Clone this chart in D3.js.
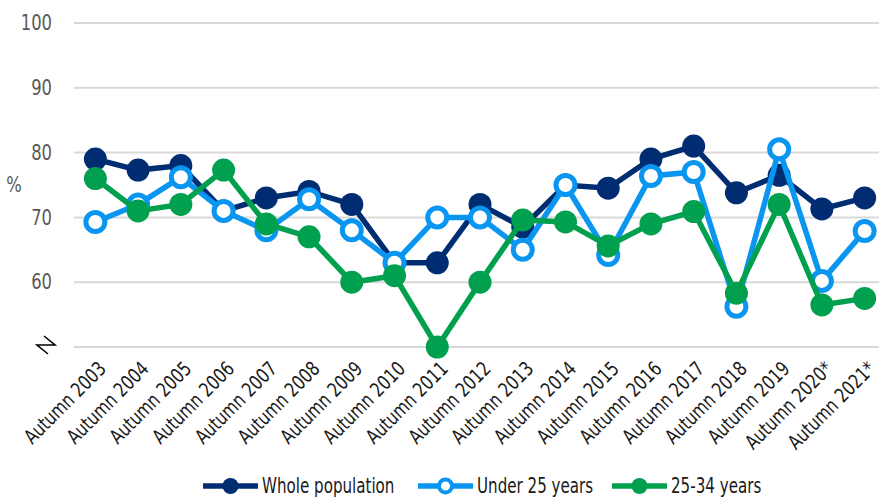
<!DOCTYPE html>
<html>
<head>
<meta charset="utf-8">
<style>
    body { margin: 0; background: white; }
    .grid line { stroke: #d9d9d9; stroke-width: 2; }
    .tick_y { fill: #595959; font-size: 21px; }
    .tick_x { fill: #1a1a1a; font-size: 20px; }
    .legend text { fill: #1a1a1a; font-size: 21px; }
    text { font-family: "DejaVu Sans", sans-serif; }
</style>
</head>
<body>
<div id="chart"></div>
<script src="https://cdn.jsdelivr.net/npm/d3@7"></script>
<script>

//////////////////// donnees ////////////////////
let annees = ['Autumn 2003', 'Autumn 2004', 'Autumn 2005', 'Autumn 2006', 'Autumn 2007', 'Autumn 2008',
    'Autumn 2009', 'Autumn 2010', 'Autumn 2011', 'Autumn 2012', 'Autumn 2013', 'Autumn 2014',
    'Autumn 2015', 'Autumn 2016', 'Autumn 2017', 'Autumn 2018', 'Autumn 2019', 'Autumn 2020*', 'Autumn 2021*'];

let whole_population = [79, 77.3, 78, 71, 73, 74, 72, 63, 63, 72, 68.5, 75, 74.5, 79, 81, 73.8, 76.5, 71.3, 73];
let under_25 = [69.3, 72, 76.2, 71, 68, 72.8, 68, 63, 70, 70, 65, 75, 64.2, 76.4, 77, 56.2, 80.5, 60.2, 67.9];
let age_25_34 = [76, 71, 72, 77.3, 69, 67, 60, 61, 50, 60, 69.6, 69.3, 65.6, 69, 70.9, 58.3, 72, 56.5, 57.5];

let y_ticks = [60, 70, 80, 90, 100];

let series = [
    {nom: 'Whole population', valeurs: whole_population, couleur: '#002d72', creux: false},
    {nom: 'Under 25 years', valeurs: under_25, couleur: '#0a96f0', creux: true},
    {nom: '25-34 years', valeurs: age_25_34, couleur: '#00a04e', creux: false}
];

//////////////////// dimensions ////////////////////
let W = 879, H = 499;
let SERRE = 0.78; // police condensee
let SERRE_LEG = 0.72;

let svg = d3.select('#chart').append('svg')
    .attr('width', W)
    .attr('height', H);

let x = d3.scaleBand()
    .domain(annees)
    .range([74, 886]);

let y = d3.scaleLinear()
    .domain([50, 100])
    .range([347, 23]);

let cx = d => x(d) + x.bandwidth() / 2;

// grille
let grid = svg.append('g').classed('grid', true);
grid.selectAll('line')
    .data([50].concat(y_ticks))
    .enter().append('line')
    .attr('x1', 74).attr('x2', W)
    .attr('y1', d => y(d)).attr('y2', d => y(d));

// axe y
let axeY = d3.axisLeft(y).tickValues(y_ticks).tickSize(0).tickPadding(0);
let gY = svg.append('g').attr('transform', 'translate(52, 0)').call(axeY);
gY.select('.domain').remove();
gY.selectAll('text')
    .classed('tick_y', true)
    .attr('fill', null).attr('font-family', null).attr('font-size', null)
    .attr('transform', `scale(${SERRE}, 1)`);

// coupure de l'axe
svg.append('path')
    .attr('d', 'M 44 336 L 55 345 L 37 345 L 48 354')
    .attr('fill', 'none')
    .attr('stroke', '#000')
    .attr('stroke-width', 1.6);

svg.append('text')
    .attr('transform', `translate(14, 192) scale(${SERRE}, 1)`)
    .attr('text-anchor', 'middle')
    .attr('fill', '#595959')
    .attr('font-size', 21)
    .text('%');

// axe x
let axeX = d3.axisBottom(x).tickSize(0).tickPadding(0);
let gX = svg.append('g').attr('transform', 'translate(0, 356)').call(axeX);
gX.select('.domain').remove();
gX.selectAll('text')
    .classed('tick_x', true)
    .attr('fill', null).attr('font-family', null).attr('font-size', null)
    .attr('text-anchor', 'end')
    .attr('y', 0)
    .attr('dy', '0.35em')
    .attr('transform', `translate(7, 9) rotate(-45) scale(${SERRE}, 1)`);

// lignes
let ligne = d3.line()
    .x((d, i) => cx(annees[i]))
    .y(d => y(d));

series.forEach(s => {
    let g = svg.append('g');
    g.append('path')
        .datum(s.valeurs)
        .attr('d', ligne)
        .attr('fill', 'none')
        .attr('stroke', s.couleur)
        .attr('stroke-width', 5.5);
    g.selectAll('circle')
        .data(s.valeurs)
        .enter().append('circle')
        .attr('cx', (d, i) => cx(annees[i]))
        .attr('cy', d => y(d))
        .attr('r', s.creux ? 9.5 : 11.5)
        .attr('fill', s.creux ? 'white' : s.couleur)
        .attr('stroke', s.creux ? s.couleur : 'none')
        .attr('stroke-width', s.creux ? 5 : 0);
});

// legende
let legende_x = [203, 418, 612];
let legende = svg.append('g').classed('legend', true);
series.forEach((s, idx) => {
    let g = legende.append('g').attr('transform', `translate(${legende_x[idx]}, 486)`);
    g.append('line')
        .attr('x1', 0).attr('x2', 55)
        .attr('stroke', s.couleur)
        .attr('stroke-width', 5.5);
    g.append('circle')
        .attr('cx', 27.5)
        .attr('r', s.creux ? 6.5 : 8)
        .attr('fill', s.creux ? 'white' : s.couleur)
        .attr('stroke', s.creux ? s.couleur : 'none')
        .attr('stroke-width', s.creux ? 4 : 0);
    g.append('text')
        .attr('transform', `translate(59, 0) scale(${SERRE_LEG}, 1)`)
        .attr('dy', '0.35em')
        .text(s.nom);
});

</script>
</body>
</html>
